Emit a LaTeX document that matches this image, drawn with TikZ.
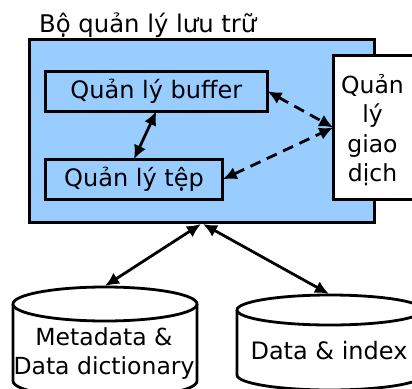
\documentclass[tikz,border=0pt]{standalone}
\usepackage{fontspec}
\setmainfont{DejaVu Sans}
\usetikzlibrary{arrows.meta}
\tikzset{
  box/.style={draw=black,line width=2.8bp,inner sep=0pt,outer sep=0pt,anchor=north west,align=center,font=\fontsize{24bp}{29.5bp}\selectfont},
  link/.style={line width=2.8bp,{Latex[length=14bp,width=13bp]}-{Latex[length=14bp,width=13bp]}},
  linkd/.style={link,dash pattern=on 11bp off 7bp},
  cyl/.style={draw=black,line width=2.8bp,fill=white},
  lbl/.style={font=\fontsize{23.5bp}{29.5bp}\selectfont,align=center,inner sep=0pt}
}
\begin{document}
\begin{tikzpicture}[x=1bp,y=-1bp]
\useasboundingbox (0,0) rectangle (412,389);
\clip (0,0) rectangle (412,389);
\node[lbl,anchor=base west,font=\fontsize{24.3bp}{29.5bp}\selectfont] (title) at (39,32) {Bộ quản lý lưu trữ};
\node[box,fill={rgb,255:red,153;green,204;blue,255},minimum width=345.5bp,minimum height=183.3bp] (main) at (29.3,39.5) {};
\node[box,minimum width=222.3bp,minimum height=40bp] (buffer) at (45.2,71.2) {\raisebox{-1bp}{Quản lý buffer}};
\node[box,minimum width=177.6bp,minimum height=40.3bp] (tep) at (45.2,159.2) {\raisebox{-1bp}{Quản lý tệp}};
\node[box,fill=white,minimum width=90bp,minimum height=144bp] (gd) at (333.2,55.5) {};
\node[lbl,anchor=center] (gdt) at (372.5,130) {Quản\\lý\\giao\\dịch};
\draw[link] (buffer.south) -- (tep.north);
\draw[linkd] (buffer.east) -- (gd.west);
\draw[linkd] (tep.east) -- (gd.west);
% cylinders
\draw[cyl] (13,304) -- (13,381) arc[start angle=180,end angle=360,x radius=92,y radius=-17] -- (197,304);
\draw[cyl] (105,304) ellipse[x radius=92,y radius=17];
\draw[cyl] (237,310) -- (237,375) arc[start angle=180,end angle=360,x radius=93,y radius=-15] -- (423,310);
\draw[cyl] (330,310) ellipse[x radius=93,y radius=15];
\coordinate (cylA) at (105,286);
\coordinate (cylB) at (329,294);
\coordinate (mainL) at (201,224);
\coordinate (mainR) at (203,224);
\node[lbl,anchor=center] (ta) at (104,353.5) {Metadata \&\\Data dictionary};
\node[lbl,anchor=center,font=\fontsize{24bp}{29.5bp}\selectfont] (tb) at (329,351) {Data \& index};
\draw[link] (mainL) -- (cylA);
\draw[link] (mainR) -- (cylB);
\end{tikzpicture}
\end{document}
